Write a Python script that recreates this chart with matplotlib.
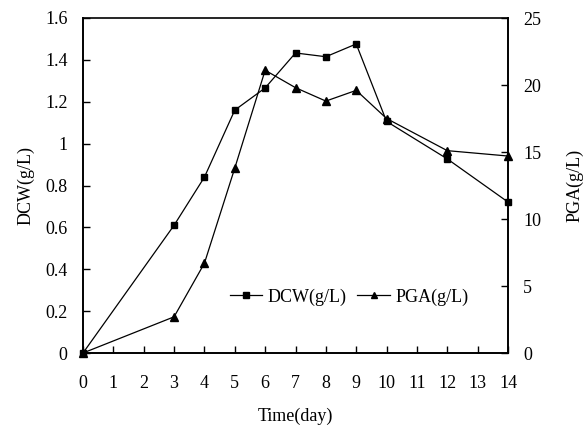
import matplotlib
matplotlib.use('Agg')
import matplotlib.pyplot as plt

plt.rcParams['font.family'] = ['Liberation Serif', 'DejaVu Serif']

days = [0, 3, 4, 5, 6, 7, 8, 9, 10, 12, 14]
dcw = [0, 0.61, 0.84, 1.16, 1.266, 1.433, 1.415, 1.476, 1.106, 0.927, 0.721]
pga = [0, 2.7, 6.7, 13.8, 21.1, 19.8, 18.8, 19.6, 17.5, 15.1, 14.7]

x_ticks = list(range(0, 15))
left_ticks = [0, 0.2, 0.4, 0.6, 0.8, 1.0, 1.2, 1.4, 1.6]
left_labels = ['0', '0.2', '0.4', '0.6', '0.8', '1', '1.2', '1.4', '1.6']
right_ticks = [0, 5, 10, 15, 20, 25]

fs = 13

fig = plt.figure(figsize=(5.87, 4.30), dpi=100)
ax1 = fig.add_axes([83 / 587, 1 - 353 / 430, 425 / 587, 335 / 430])
ax2 = ax1.twinx()

l1, = ax1.plot(days, dcw, color='black', linewidth=0.9, marker='s',
               markersize=5, label='DCW(g/L)', clip_on=False, zorder=3)
l2, = ax2.plot(days, pga, color='black', linewidth=0.9, marker='^',
               markersize=6, label='PGA(g/L)', clip_on=False, zorder=3)

ax1.set_xlim(0, 14)
ax1.set_ylim(0, 1.6)
ax2.set_ylim(0, 25)

ax1.set_xticks(x_ticks)
ax1.set_xticklabels([str(t) for t in x_ticks], fontsize=fs)
ax1.set_yticks(left_ticks)
ax1.set_yticklabels(left_labels, fontsize=fs)
ax2.set_yticks(right_ticks)
ax2.set_yticklabels([str(t) for t in right_ticks], fontsize=fs)

ax1.tick_params(axis='x', direction='in', length=5, width=1, pad=16)
ax1.tick_params(axis='y', direction='in', length=5, width=1, pad=11)
ax2.tick_params(axis='y', direction='in', length=5, width=1, pad=11)

for ax in (ax1, ax2):
    ax.spines['top'].set_visible(False)
    for s in ax.spines.values():
        s.set_linewidth(1.2)

ax1.set_xlabel('Time(day)', fontsize=fs, labelpad=11)
ax1.set_ylabel('DCW(g/L)', fontsize=fs, labelpad=8)
ax2.set_ylabel('PGA(g/L)', fontsize=fs, labelpad=18)

ax1.plot([0, 14], [1.6, 1.6], color='black', linewidth=1.2, clip_on=False)

ax1.legend([l1, l2], ['DCW(g/L)', 'PGA(g/L)'], ncol=2, frameon=False,
           fontsize=fs, loc='center', bbox_to_anchor=(0.626, 0.167),
           handlelength=1.8, columnspacing=0.6, handletextpad=0.3,
           markerscale=0.75)

fig.savefig('out.png', dpi=100)
